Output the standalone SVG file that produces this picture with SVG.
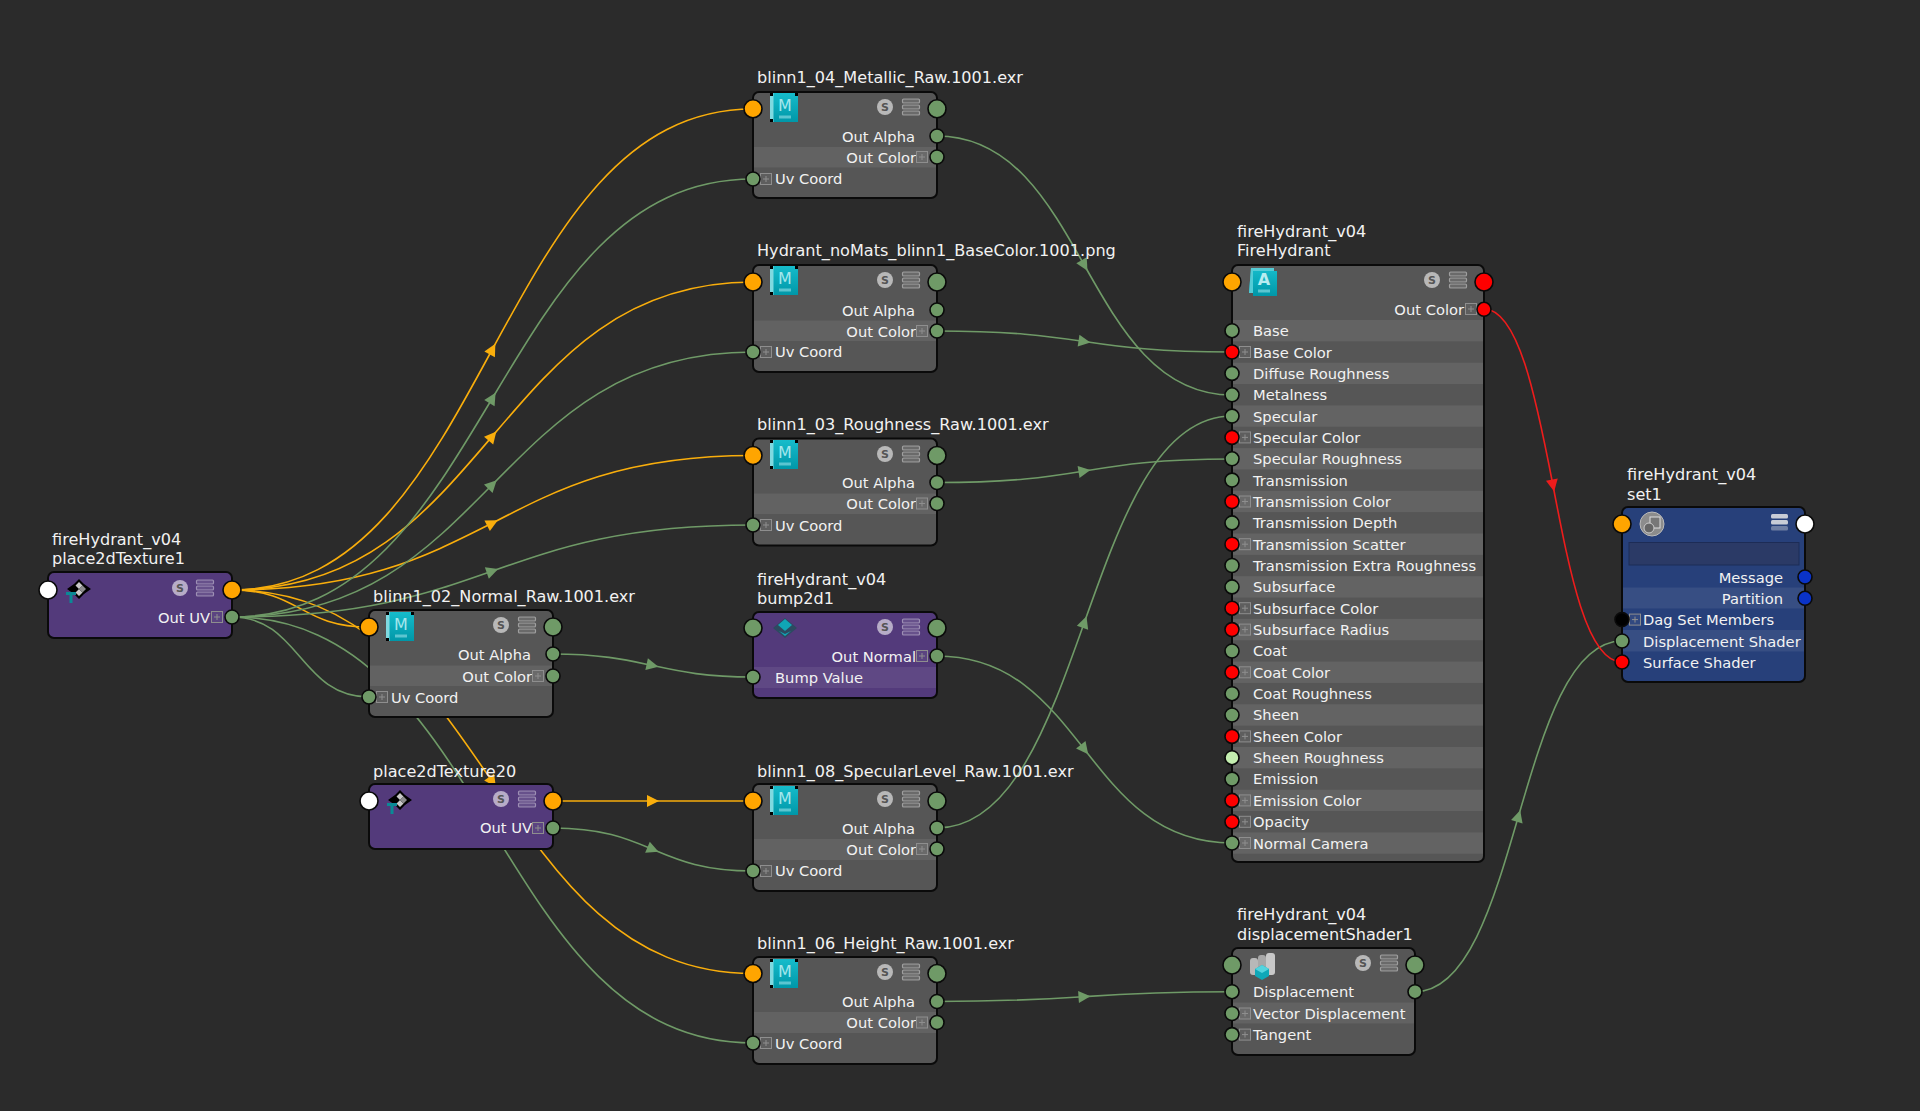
<svg xmlns="http://www.w3.org/2000/svg" xmlns:xlink="http://www.w3.org/1999/xlink" width="1920" height="1111" viewBox="0 0 1920 1111">
<style>
text{font-family:"DejaVu Sans","Liberation Sans",sans-serif;fill:#f2f2f2}
.t{font-size:16.1px}
.l{font-size:14.7px}
.e{text-anchor:end}
.gray{fill:#565656}.purple{fill:#533a7b}.blue{fill:#27407a}
.outline{fill:none;stroke:#0a0a0a;stroke-width:2}
.band{fill:#fff;opacity:.075}
.p{stroke:#0a0a0a;stroke-width:1.6}
.g{fill:#6f9a67}.o{fill:#ffa500}.r{fill:#ff0000}.w{fill:#fff}.b{fill:#0a33c8}.k{fill:#000}.lg{fill:#c4eeb0}
.cg,.co,.cr{fill:none;stroke-width:1.6}
.cg{stroke:#6f9a67;marker-mid:url(#ag)}
.co{stroke:#f9ae0c;marker-mid:url(#ao)}
.cr{stroke:#ee1c1c;marker-mid:url(#ar)}
.nm{marker-mid:none}
</style>
<defs>
<marker id="ag" markerUnits="userSpaceOnUse" markerWidth="16" markerHeight="16" refX="8" refY="8" orient="auto"><path d="M2 2L14 8L2 14Z" fill="#6f9a67"/></marker>
<marker id="ao" markerUnits="userSpaceOnUse" markerWidth="16" markerHeight="16" refX="8" refY="8" orient="auto"><path d="M2 2L14 8L2 14Z" fill="#f9ae0c"/></marker>
<marker id="ar" markerUnits="userSpaceOnUse" markerWidth="16" markerHeight="16" refX="8" refY="8" orient="auto"><path d="M2 2L14 8L2 14Z" fill="#ee1c1c"/></marker>
<g id="s"><circle r="8" fill="#fff" opacity=".58"/><text y="4.300" text-anchor="middle" style="font-size:11px;font-weight:bold;fill:#555">S</text></g>
<g id="list" fill="#fff" fill-opacity=".12" stroke="#fff" stroke-opacity=".4" stroke-width="1.200"><rect x="-8.500" y="-8" width="17" height="4" rx="1"/><rect x="-8.500" y="-2" width="17" height="4" rx="1"/><rect x="-8.500" y="4" width="17" height="4" rx="1"/></g>
<g id="plus" fill="none" stroke="#8e8e8e" stroke-width="1"><rect x="-5.500" y="-5.500" width="11" height="11" fill="#fff" fill-opacity=".05"/><path d="M-3 0H3M0-3V3"/></g>
<linearGradient id="teal" x1="0" y1="0" x2="0" y2="1"><stop offset="0" stop-color="#16bccb"/><stop offset="1" stop-color="#0097a8"/></linearGradient>
<g id="m"><rect x="0" y="-15" width="28" height="29" fill="url(#teal)"/><rect x="0" y="-15" width="3.500" height="29" fill="#7fd9e0"/><path d="M0-15h3v3h-3zM25-15h3v3h-3zM0 11h3v3h-3z" fill="#000"/><text x="15" y="3" text-anchor="middle" style="font-size:16px;font-weight:normal;fill:#a4e6ec">M</text><rect x="9" y="7.500" width="12" height="3" fill="#a4e6ec" opacity=".55"/></g>
<g id="a"><path d="M2-14h23v3h3v25h-24v-3h-4z" fill="url(#teal)"/><path d="M2-14h23v3h-21v22h-4z" fill="#55ccd6"/><text x="15" y="3" text-anchor="middle" style="font-size:16px;font-weight:bold;fill:#b8ecf0">A</text><rect x="9" y="7.500" width="12" height="3" fill="#a4e6ec" opacity=".55"/></g>
<g id="p2d"><path d="M-12 0L-5-5L0-10L5-5L12 0L5 5L0 10L-5 5Z" fill="#000"/><path d="M0-7L3.500-3.500L0 0L-3.500-3.500ZM0 0L3.500 3.500L0 7L-3.500 3.500Z" fill="#c8c8c8"/><path d="M3.500-3.500L7 0L3.500 3.500L0 0Z" fill="#8e8e8e"/><path d="M-13 3H-3V6H-6.500V14H-9.500V6H-13Z" fill="#0a8a96"/></g>
</defs>
<rect width="1920" height="1111" fill="#2b2b2b"/>
<g id="connectors">
<path class="co" d="M232 590C362 590 427 470 492.500 349C558 229 623 109 753 109"/>
<path class="co" d="M232 590C362 590 427 513 492.500 436C558 359 623 282 753 282"/>
<path class="co" d="M232 590C362 590 427 556 492.500 523C558 489 623 455.500 753 455.500"/>
<path class="co" d="M232 590C362 590 427 686 492.500 782C558 878 623 973.500 753 973.500"/>
<path class="co nm" d="M232 590C300 590 300 627 369 627"/>
<path class="cg" d="M232 617C362 617 427 507.500 492.500 398C558 288.500 623 179 753 179"/>
<path class="cg" d="M232 617C362 617 427 551 492.500 484.500C558 418 623 352 753 352"/>
<path class="cg" d="M232 617C362 617 427 594 492.500 571C558 548 623 525 753 525"/>
<path class="cg" d="M232 617C362 617 427 723.500 492.500 830C558 936.500 623 1043 753 1043"/>
<path class="cg nm" d="M232 617C300 617 300 697 369 697"/>
<path class="co" d="M553 801L653 801L753 801"/>
<path class="cg" d="M553 828C603 828 628 839 653 849.500C678 860 703 871 753 871"/>
<path class="cg" d="M552 654C602 654 627 660 652.500 665.500C678 671 703 677 753 677"/>
<path class="cg" d="M937 136C1011 136 1048 201 1084.500 265.500C1121 330 1158 395 1232 395"/>
<path class="cg" d="M937 331C1011 331 1048 336 1084.500 341.500C1121 347 1158 352 1232 352"/>
<path class="cg" d="M937 482.500C1011 482.500 1048 477 1084.500 471C1121 465 1158 459 1232 459"/>
<path class="cg" d="M937 828C1011 828 1048 725 1084.500 622C1121 519 1158 416 1232 416"/>
<path class="cg" d="M937 656C1011 656 1048 703 1084.500 749.500C1121 796 1158 843 1232 843"/>
<path class="cg" d="M937 1001.500C1011 1001.500 1048 999 1084.500 996.600C1121 994 1158 991.700 1232 991.700"/>
<path class="cg" d="M1415 991.700C1467 991.700 1493 904 1518.500 816C1544 729 1570 641 1622 641"/>
<path class="cr" d="M1484 309C1518 309 1536 397 1553 485.500C1570 574 1587 662 1622 662"/>
</g>

<g id="place2dTexture1">
<text class="t" x="52" y="545">fireHydrant_v04</text><text class="t" x="52" y="564">place2dTexture1</text>
<rect class="purple" x="48" y="572" width="184" height="66" rx="6"/><rect class="outline" x="48" y="572" width="184" height="66" rx="6"/>
<use href="#p2d" x="79" y="589"/><use href="#s" x="180" y="588"/><use href="#list" x="205" y="588"/>
<text class="l e" x="210" y="623">Out UV</text><use href="#plus" x="217" y="617"/>
<circle class="p w" cx="48" cy="590" r="9"/><circle class="p o" cx="232" cy="590" r="9"/><circle class="p g" cx="232" cy="617" r="7"/>
</g>

<g id="metallic">
<text class="t" x="757" y="83">blinn1_04_Metallic_Raw.1001.exr</text>
<rect class="gray" x="753" y="92" width="184" height="106" rx="6"/><rect class="band" x="753" y="147" width="184" height="20.500"/><rect class="outline" x="753" y="92" width="184" height="106" rx="6"/>
<use href="#m" x="770" y="108"/><use href="#s" x="885" y="107"/><use href="#list" x="911" y="107"/>
<text class="l e" x="915" y="141.500">Out Alpha</text><text class="l e" x="916" y="162.500">Out Color</text><use href="#plus" x="922" y="157"/>
<use href="#plus" x="766" y="179"/><text class="l" x="775" y="184">Uv Coord</text>
<circle class="p o" cx="753" cy="108.700" r="9"/><circle class="p g" cx="937" cy="108.700" r="9"/><circle class="p g" cx="937" cy="136" r="7"/><circle class="p g" cx="937" cy="157" r="7"/><circle class="p g" cx="753" cy="179" r="7"/>
</g>

<g id="basecolor">
<text class="t" x="757" y="256">Hydrant_noMats_blinn1_BaseColor.1001.png</text>
<rect class="gray" x="753" y="265" width="184" height="107" rx="6"/><rect class="band" x="753" y="320.500" width="184" height="20.500"/><rect class="outline" x="753" y="265" width="184" height="107" rx="6"/>
<use href="#m" x="770" y="281"/><use href="#s" x="885" y="280"/><use href="#list" x="911" y="280"/>
<text class="l e" x="915" y="315.500">Out Alpha</text><text class="l e" x="916" y="336.500">Out Color</text><use href="#plus" x="922" y="331"/>
<use href="#plus" x="766" y="352"/><text class="l" x="775" y="357">Uv Coord</text>
<circle class="p o" cx="753" cy="282" r="9"/><circle class="p g" cx="937" cy="282" r="9"/><circle class="p g" cx="937" cy="310" r="7"/><circle class="p g" cx="937" cy="331" r="7"/><circle class="p g" cx="753" cy="352" r="7"/>
</g>

<g id="roughness">
<text class="t" x="757" y="430">blinn1_03_Roughness_Raw.1001.exr</text>
<rect class="gray" x="753" y="438.500" width="184" height="107" rx="6"/><rect class="band" x="753" y="493.500" width="184" height="20.500"/><rect class="outline" x="753" y="438.500" width="184" height="107" rx="6"/>
<use href="#m" x="770" y="455"/><use href="#s" x="885" y="454"/><use href="#list" x="911" y="454"/>
<text class="l e" x="915" y="488">Out Alpha</text><text class="l e" x="916" y="509">Out Color</text><use href="#plus" x="922" y="503.500"/>
<use href="#plus" x="766" y="525"/><text class="l" x="775" y="530.500">Uv Coord</text>
<circle class="p o" cx="753" cy="455.500" r="9"/><circle class="p g" cx="937" cy="455.500" r="9"/><circle class="p g" cx="937" cy="482.500" r="7"/><circle class="p g" cx="937" cy="503.500" r="7"/><circle class="p g" cx="753" cy="525" r="7"/>
</g>

<g id="normal">
<text class="t" x="373" y="602">blinn1_02_Normal_Raw.1001.exr</text>
<rect class="gray" x="369" y="610" width="184" height="107" rx="6"/><rect class="band" x="369" y="665.500" width="184" height="20.500"/><rect class="outline" x="369" y="610" width="184" height="107" rx="6"/>
<use href="#m" x="386" y="627"/><use href="#s" x="501" y="625"/><use href="#list" x="527" y="625"/>
<text class="l e" x="531" y="659.500">Out Alpha</text><text class="l e" x="532" y="681.500">Out Color</text><use href="#plus" x="538" y="676"/>
<use href="#plus" x="382" y="697"/><text class="l" x="391" y="702.500">Uv Coord</text>
<circle class="p o" cx="369" cy="627" r="9"/><circle class="p g" cx="553" cy="627" r="9"/><circle class="p g" cx="553" cy="654" r="7"/><circle class="p g" cx="553" cy="676" r="7"/><circle class="p g" cx="369" cy="697" r="7"/>
</g>

<g id="bump2d1">
<text class="t" x="757" y="585">fireHydrant_v04</text><text class="t" x="757" y="604">bump2d1</text>
<rect class="purple" x="753" y="612" width="184" height="86" rx="6"/><rect class="band" x="753" y="667" width="184" height="21"/><rect class="outline" x="753" y="612" width="184" height="86" rx="6"/>
<path d="M773 628L785 618L797 628L785 638Z" fill="#2d4a60"/><path d="M785 619L792 625L785 631L778 625Z" fill="#10a5b5"/><path d="M779 631L785 636L791 631L785 634Z" fill="#10a5b5"/>
<use href="#s" x="885" y="627"/><use href="#list" x="911" y="627"/>
<text class="l e" x="916" y="661.500">Out Normal</text><use href="#plus" x="922" y="656"/>
<text class="l" x="775" y="682.500">Bump Value</text>
<circle class="p g" cx="753" cy="628" r="9"/><circle class="p g" cx="937" cy="628" r="9"/><circle class="p g" cx="937" cy="656" r="7"/><circle class="p g" cx="753" cy="677" r="7"/>
</g>

<g id="place2dTexture20">
<text class="t" x="373" y="777">place2dTexture20</text>
<rect class="purple" x="369" y="784" width="184" height="65" rx="6"/><rect class="outline" x="369" y="784" width="184" height="65" rx="6"/>
<use href="#p2d" x="400" y="800"/><use href="#s" x="501" y="799"/><use href="#list" x="527" y="799"/>
<text class="l e" x="532" y="833">Out UV</text><use href="#plus" x="538" y="828"/>
<circle class="p w" cx="369" cy="801" r="9"/><circle class="p o" cx="553" cy="801" r="9"/><circle class="p g" cx="553" cy="828" r="7"/>
</g>

<g id="specularlevel">
<text class="t" x="757" y="777">blinn1_08_SpecularLevel_Raw.1001.exr</text>
<rect class="gray" x="753" y="784" width="184" height="107" rx="6"/><rect class="band" x="753" y="839" width="184" height="21"/><rect class="outline" x="753" y="784" width="184" height="107" rx="6"/>
<use href="#m" x="770" y="801"/><use href="#s" x="885" y="799"/><use href="#list" x="911" y="799"/>
<text class="l e" x="915" y="833.500">Out Alpha</text><text class="l e" x="916" y="854.500">Out Color</text><use href="#plus" x="922" y="849"/>
<use href="#plus" x="766" y="871"/><text class="l" x="775" y="876">Uv Coord</text>
<circle class="p o" cx="753" cy="801" r="9"/><circle class="p g" cx="937" cy="801" r="9"/><circle class="p g" cx="937" cy="828" r="7"/><circle class="p g" cx="937" cy="849" r="7"/><circle class="p g" cx="753" cy="871" r="7"/>
</g>

<g id="height">
<text class="t" x="757" y="949">blinn1_06_Height_Raw.1001.exr</text>
<rect class="gray" x="753" y="957" width="184" height="107" rx="6"/><rect class="band" x="753" y="1012" width="184" height="21"/><rect class="outline" x="753" y="957" width="184" height="107" rx="6"/>
<use href="#m" x="770" y="974"/><use href="#s" x="885" y="972"/><use href="#list" x="911" y="972"/>
<text class="l e" x="915" y="1007">Out Alpha</text><text class="l e" x="916" y="1028">Out Color</text><use href="#plus" x="922" y="1022.500"/>
<use href="#plus" x="766" y="1043"/><text class="l" x="775" y="1048.500">Uv Coord</text>
<circle class="p o" cx="753" cy="973.500" r="9"/><circle class="p g" cx="937" cy="973.500" r="9"/><circle class="p g" cx="937" cy="1001.500" r="7"/><circle class="p g" cx="937" cy="1022.500" r="7"/><circle class="p g" cx="753" cy="1043" r="7"/>
</g>

<g id="fireHydrant">
<text class="t" x="1237" y="237">fireHydrant_v04</text><text class="t" x="1237" y="256">FireHydrant</text>
<rect class="gray" x="1232" y="265" width="252" height="597" rx="6"/>
<g class="band">
<rect x="1232" y="320" width="252" height="21.350"/><rect x="1232" y="362.700" width="252" height="21.350"/><rect x="1232" y="405.400" width="252" height="21.350"/><rect x="1232" y="448.100" width="252" height="21.350"/><rect x="1232" y="490.800" width="252" height="21.350"/><rect x="1232" y="533.500" width="252" height="21.350"/><rect x="1232" y="576.200" width="252" height="21.350"/><rect x="1232" y="618.900" width="252" height="21.350"/><rect x="1232" y="661.600" width="252" height="21.350"/><rect x="1232" y="704.300" width="252" height="21.350"/><rect x="1232" y="747" width="252" height="21.350"/><rect x="1232" y="789.700" width="252" height="21.350"/><rect x="1232" y="832.400" width="252" height="21.350"/>
</g>
<rect class="outline" x="1232" y="265" width="252" height="597" rx="6"/>
<use href="#a" x="1249" y="282"/><use href="#s" x="1432" y="280"/><use href="#list" x="1458" y="280"/>
<text class="l e" x="1464" y="315">Out Color</text><use href="#plus" x="1471" y="309"/>
<g>
<text class="l" x="1253" y="336">Base</text>
<text class="l" x="1253" y="357.500">Base Color</text>
<text class="l" x="1253" y="378.500">Diffuse Roughness</text>
<text class="l" x="1253" y="400">Metalness</text>
<text class="l" x="1253" y="421.500">Specular</text>
<text class="l" x="1253" y="442.500">Specular Color</text>
<text class="l" x="1253" y="464">Specular Roughness</text>
<text class="l" x="1253" y="485.500">Transmission</text>
<text class="l" x="1253" y="506.500">Transmission Color</text>
<text class="l" x="1253" y="528">Transmission Depth</text>
<text class="l" x="1253" y="549.500">Transmission Scatter</text>
<text class="l" x="1253" y="570.500">Transmission Extra Roughness</text>
<text class="l" x="1253" y="592">Subsurface</text>
<text class="l" x="1253" y="613.500">Subsurface Color</text>
<text class="l" x="1253" y="634.500">Subsurface Radius</text>
<text class="l" x="1253" y="656">Coat</text>
<text class="l" x="1253" y="677.500">Coat Color</text>
<text class="l" x="1253" y="698.500">Coat Roughness</text>
<text class="l" x="1253" y="720">Sheen</text>
<text class="l" x="1253" y="741.500">Sheen Color</text>
<text class="l" x="1253" y="762.500">Sheen Roughness</text>
<text class="l" x="1253" y="784">Emission</text>
<text class="l" x="1253" y="805.500">Emission Color</text>
<text class="l" x="1253" y="826.500">Opacity</text>
<text class="l" x="1253" y="848.500">Normal Camera</text>
</g>
<use href="#plus" x="1245" y="352"/><use href="#plus" x="1245" y="437.400"/><use href="#plus" x="1245" y="501.500"/><use href="#plus" x="1245" y="544.200"/><use href="#plus" x="1245" y="608.200"/><use href="#plus" x="1245" y="629.600"/><use href="#plus" x="1245" y="672.300"/><use href="#plus" x="1245" y="736.400"/><use href="#plus" x="1245" y="800.400"/><use href="#plus" x="1245" y="821.800"/><use href="#plus" x="1245" y="843"/>
<circle class="p o" cx="1232" cy="282" r="9"/><circle class="p r" cx="1484" cy="282" r="9"/><circle class="p r" cx="1484" cy="309.300" r="7"/>
<circle class="p g" cx="1232" cy="330.700" r="7"/><circle class="p r" cx="1232" cy="352" r="7"/><circle class="p g" cx="1232" cy="373.400" r="7"/><circle class="p g" cx="1232" cy="394.800" r="7"/><circle class="p g" cx="1232" cy="416.100" r="7"/><circle class="p r" cx="1232" cy="437.400" r="7"/><circle class="p g" cx="1232" cy="458.800" r="7"/><circle class="p g" cx="1232" cy="480.100" r="7"/><circle class="p r" cx="1232" cy="501.500" r="7"/><circle class="p g" cx="1232" cy="522.900" r="7"/><circle class="p r" cx="1232" cy="544.200" r="7"/><circle class="p g" cx="1232" cy="565.500" r="7"/><circle class="p g" cx="1232" cy="586.900" r="7"/><circle class="p r" cx="1232" cy="608.200" r="7"/><circle class="p r" cx="1232" cy="629.600" r="7"/><circle class="p g" cx="1232" cy="651" r="7"/><circle class="p r" cx="1232" cy="672.300" r="7"/><circle class="p g" cx="1232" cy="693.700" r="7"/><circle class="p g" cx="1232" cy="715" r="7"/><circle class="p r" cx="1232" cy="736.400" r="7"/><circle class="p lg" cx="1232" cy="757.700" r="7"/><circle class="p g" cx="1232" cy="779.100" r="7"/><circle class="p r" cx="1232" cy="800.400" r="7"/><circle class="p r" cx="1232" cy="821.800" r="7"/><circle class="p g" cx="1232" cy="843" r="7"/>
</g>

<g id="displacementShader1">
<text class="t" x="1237" y="920">fireHydrant_v04</text><text class="t" x="1237" y="940">displacementShader1</text>
<rect class="gray" x="1232" y="948" width="183" height="107" rx="6"/><rect class="band" x="1232" y="1002.500" width="183" height="21"/><rect class="outline" x="1232" y="948" width="183" height="107" rx="6"/>
<rect x="1250" y="958" width="8" height="17" rx="3" fill="#b8b8b8"/><rect x="1258" y="955" width="8" height="14" rx="3" fill="#a8a8a8"/><rect x="1266" y="953" width="9" height="22" rx="3" fill="#c8c8c8"/><path d="M1262 965L1269 969V976L1262 980L1255 976V969Z" fill="#0fa8b8"/><path d="M1262 965L1269 969L1262 973L1255 969Z" fill="#55d4de"/>
<use href="#s" x="1363" y="963"/><use href="#list" x="1389" y="963"/>
<text class="l" x="1253" y="997">Displacement</text><text class="l" x="1253" y="1018.500">Vector Displacement</text><text class="l" x="1253" y="1040">Tangent</text>
<use href="#plus" x="1245" y="1013.500"/><use href="#plus" x="1245" y="1034.600"/>
<circle class="p g" cx="1232" cy="965" r="9"/><circle class="p g" cx="1415" cy="965" r="9"/><circle class="p g" cx="1232" cy="991.700" r="7"/><circle class="p g" cx="1415" cy="991.700" r="7"/><circle class="p g" cx="1232" cy="1013.500" r="7"/><circle class="p g" cx="1232" cy="1034.600" r="7"/>
</g>

<g id="set1">
<text class="t" x="1627" y="479.500">fireHydrant_v04</text><text class="t" x="1627" y="499.500">set1</text>
<rect class="blue" x="1622" y="507" width="183" height="175" rx="6"/><rect class="band" x="1622" y="587.500" width="183" height="21"/><rect class="band" x="1622" y="630" width="183" height="21.500"/><rect class="outline" x="1622" y="507" width="183" height="175" rx="6"/>
<rect x="1629" y="542.500" width="170" height="22.500" fill="#2b3a66" stroke="#1d2c56"/>
<circle cx="1652" cy="524" r="12" fill="#8c8c8c" stroke="#bbb"/><rect x="1650" y="517" width="10" height="11" fill="#777" stroke="#ddd"/><circle cx="1649" cy="528" r="5" fill="#666" stroke="#ccc"/>
<g fill="#c8ccd6"><rect x="1771" y="514" width="17" height="4.500" rx="1.500"/><rect x="1771" y="520" width="17" height="4.500" rx="1.500"/><rect x="1771" y="526" width="17" height="4.500" rx="1.500" opacity=".45"/></g>
<text class="l e" x="1783" y="582.500">Message</text><text class="l e" x="1783" y="604">Partition</text>
<use href="#plus" x="1635" y="619.600"/><text class="l" x="1643" y="625">Dag Set Members</text><text class="l" x="1643" y="646.500">Displacement Shader</text><text class="l" x="1643" y="667.500">Surface Shader</text>
<circle class="p o" cx="1622" cy="524" r="9"/><circle class="p w" cx="1805" cy="524" r="9"/><circle class="p b" cx="1805" cy="577" r="7"/><circle class="p b" cx="1805" cy="598.300" r="7"/><circle class="p k" cx="1622" cy="619.600" r="7"/><circle class="p g" cx="1622" cy="641" r="7"/><circle class="p r" cx="1622" cy="662" r="7"/>
</g>
</svg>
